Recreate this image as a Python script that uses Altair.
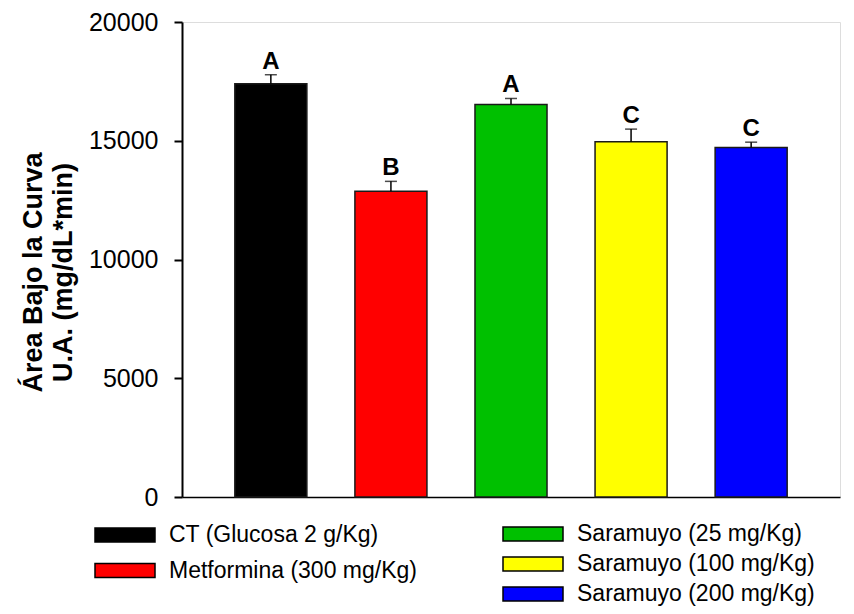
import altair as alt
import pandas as pd

# ---- data ----
grupos = [
    "CT (Glucosa 2 g/Kg)",
    "Metformina (300 mg/Kg)",
    "Saramuyo (25 mg/Kg)",
    "Saramuyo (100 mg/Kg)",
    "Saramuyo (200 mg/Kg)",
]
medias = [17400, 12870, 16530, 14960, 14720]
errores = [380, 420, 250, 530, 220]
letras = ["A", "B", "A", "C", "C"]
colores = ["#000000", "#FF0000", "#00C000", "#FFFF00", "#0000FF"]
y_ticks = [0, 5000, 10000, 15000, 20000]

df = pd.DataFrame({
    "grupo": grupos,
    "media": medias,
    "error": errores,
    "letra": letras,
})
df["sup"] = df["media"] + df["error"]

FONT = "Liberation Sans"
RECT = "M-2,-0.4667H2V0.4667H-2Z"

x_enc = alt.X(
    "grupo:N",
    scale=alt.Scale(domain=grupos, paddingInner=0.4, paddingOuter=0.44),
    axis=alt.Axis(labels=False, ticks=False, title=None, domainColor="black",
                  domainWidth=1.5, grid=False),
)
y_enc = alt.Y(
    "media:Q",
    scale=alt.Scale(domain=[0, 20000], nice=False, zero=True),
    axis=alt.Axis(
        values=y_ticks,
        title=["Área Bajo la Curva", "U.A. (mg/dL*min)"],
        titleFontSize=27, titleFontWeight="bold", titleColor="black",
        titleFont=FONT, titleLineHeight=30, titleAngle=-90,
        titleX=-149, titleY=250, titleAlign="center", titleBaseline="middle",
        labelFontSize=25, labelFont=FONT, labelColor="black",
        labelPadding=16, labelFlush=False, labelOverlap=False,
        tickSize=8, tickWidth=2, tickColor="black",
        domainColor="black", domainWidth=2, grid=False, format="d",
    ),
)

base = alt.Chart(df)

legend_common = dict(
    orient="none", title=None, padding=0, direction="vertical",
    symbolType=RECT, symbolSize=900, symbolStrokeColor="black",
    symbolStrokeWidth=1.5, symbolOpacity=1,
    labelFontSize=23, labelFont=FONT, labelColor="black",
    labelOffset=28, labelLimit=400,
)

bars_left = base.transform_filter(
    alt.FieldOneOfPredicate(field="grupo", oneOf=grupos[:2])
).mark_bar(stroke="#1a1a1a", strokeWidth=1.5, opacity=1).encode(
    x=x_enc,
    y=y_enc,
    fill=alt.Fill(
        "grupo:N",
        scale=alt.Scale(domain=grupos[:2], range=colores[:2]),
        legend=alt.Legend(legendX=-73, legendY=497, rowPadding=7.5, **legend_common),
    ),
)

bars_right = base.transform_filter(
    alt.FieldOneOfPredicate(field="grupo", oneOf=grupos[2:])
).mark_bar(stroke="#1a1a1a", strokeWidth=1.5, opacity=1).encode(
    x=x_enc,
    y=alt.Y("media:Q"),
    color=alt.Color(
        "grupo:N",
        scale=alt.Scale(domain=grupos[2:], range=colores[2:]),
        legend=alt.Legend(legendX=335, legendY=496, rowPadding=2, **legend_common),
    ),
)

err = base.mark_rule(color="black", strokeWidth=1.5).encode(
    x=alt.X("grupo:N"),
    y=alt.Y("media:Q"),
    y2="sup:Q",
)

caps = base.mark_tick(color="black", thickness=1.5, size=12, orient="horizontal").encode(
    x=alt.X("grupo:N"),
    y=alt.Y("sup:Q"),
)

labels = base.mark_text(
    font=FONT, fontSize=24, fontWeight="bold", color="black",
    baseline="alphabetic", align="center", dy=-6,
).encode(
    x=alt.X("grupo:N"),
    y=alt.Y("sup:Q"),
    text="letra:N",
)

chart = alt.layer(bars_left, bars_right, err, caps, labels).properties(
    width=658,
    height=475,
    autosize=alt.AutoSizeParams(type="none"),
    padding={"left": 174, "top": 14, "right": 6, "bottom": 109},
).configure_view(stroke=None).configure(font=FONT)

chart.save("out.html", embed_options={"renderer": "svg", "actions": False})
